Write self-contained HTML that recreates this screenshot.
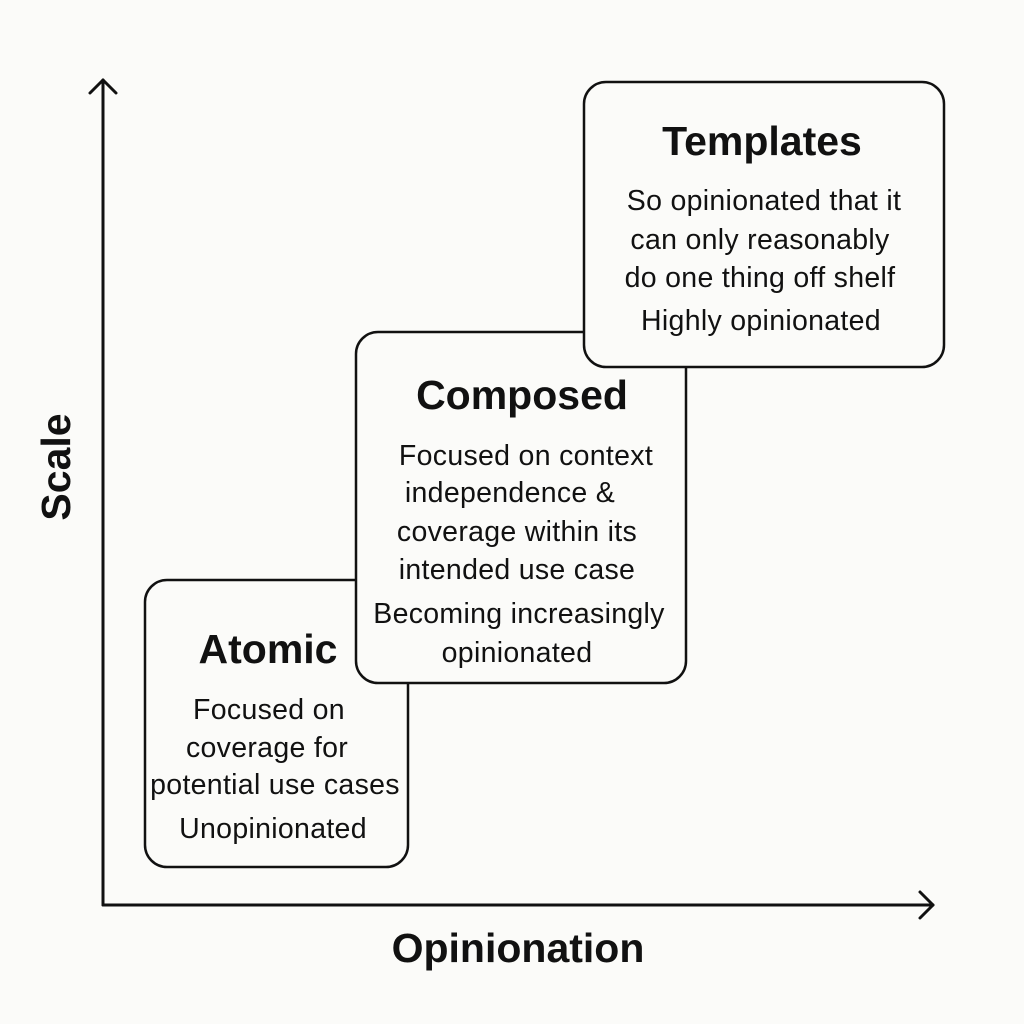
<!DOCTYPE html>
<html><head><meta charset="utf-8"><style>
body{margin:0;background:#fbfbf9;}
svg{display:block}
text{font-family:"Liberation Sans","DejaVu Sans",sans-serif;fill:#111;}
.t{font-weight:bold;font-size:41px;text-anchor:middle}
.b{font-size:28.5px;text-anchor:middle;letter-spacing:0.3px}
</style></head><body>
<svg width="1024" height="1024" viewBox="0 0 1024 1024">
<rect width="1024" height="1024" fill="#fbfbf9"/>
<g stroke="#111" stroke-width="3" fill="none" stroke-linecap="round" stroke-linejoin="round">
<line x1="103" y1="80" x2="103" y2="905"/>
<polyline points="90,93 103,80 116,93"/>
<line x1="103" y1="905" x2="933" y2="905"/>
<polyline points="920,892 933,905 920,918"/>
</g>
<rect x="145" y="580" width="263" height="287" rx="22" fill="#fbfbf9" stroke="#111" stroke-width="2.5"/>
<rect x="356" y="332" width="330" height="351" rx="22" fill="#fbfbf9" stroke="#111" stroke-width="2.5"/>
<rect x="584" y="82" width="360" height="285" rx="22" fill="#fbfbf9" stroke="#111" stroke-width="2.5"/>
<text class="t" x="762" y="155">Templates</text>
<text class="b" x="764" y="210">So opinionated that it</text>
<text class="b" x="760" y="249">can only reasonably</text>
<text class="b" x="760" y="287">do one thing off shelf</text>
<text class="b" x="761" y="330">Highly opinionated</text>
<text class="t" x="522" y="409">Composed</text>
<text class="b" x="526" y="465">Focused on context</text>
<text class="b" x="510" y="502">independence &amp;</text>
<text class="b" x="517" y="541">coverage within its</text>
<text class="b" x="517" y="579">intended use case</text>
<text class="b" x="519" y="623">Becoming increasingly</text>
<text class="b" x="517" y="662">opinionated</text>
<text class="t" x="268" y="663">Atomic</text>
<text class="b" x="269" y="719">Focused on</text>
<text class="b" x="267" y="757">coverage for</text>
<text class="b" x="275" y="794">potential use cases</text>
<text class="b" x="273" y="838">Unopinionated</text>
<text class="t" x="518" y="962">Opinionation</text>
<text class="t" transform="translate(70,467) rotate(-90)" x="0" y="0">Scale</text>
</svg>
</body></html>
